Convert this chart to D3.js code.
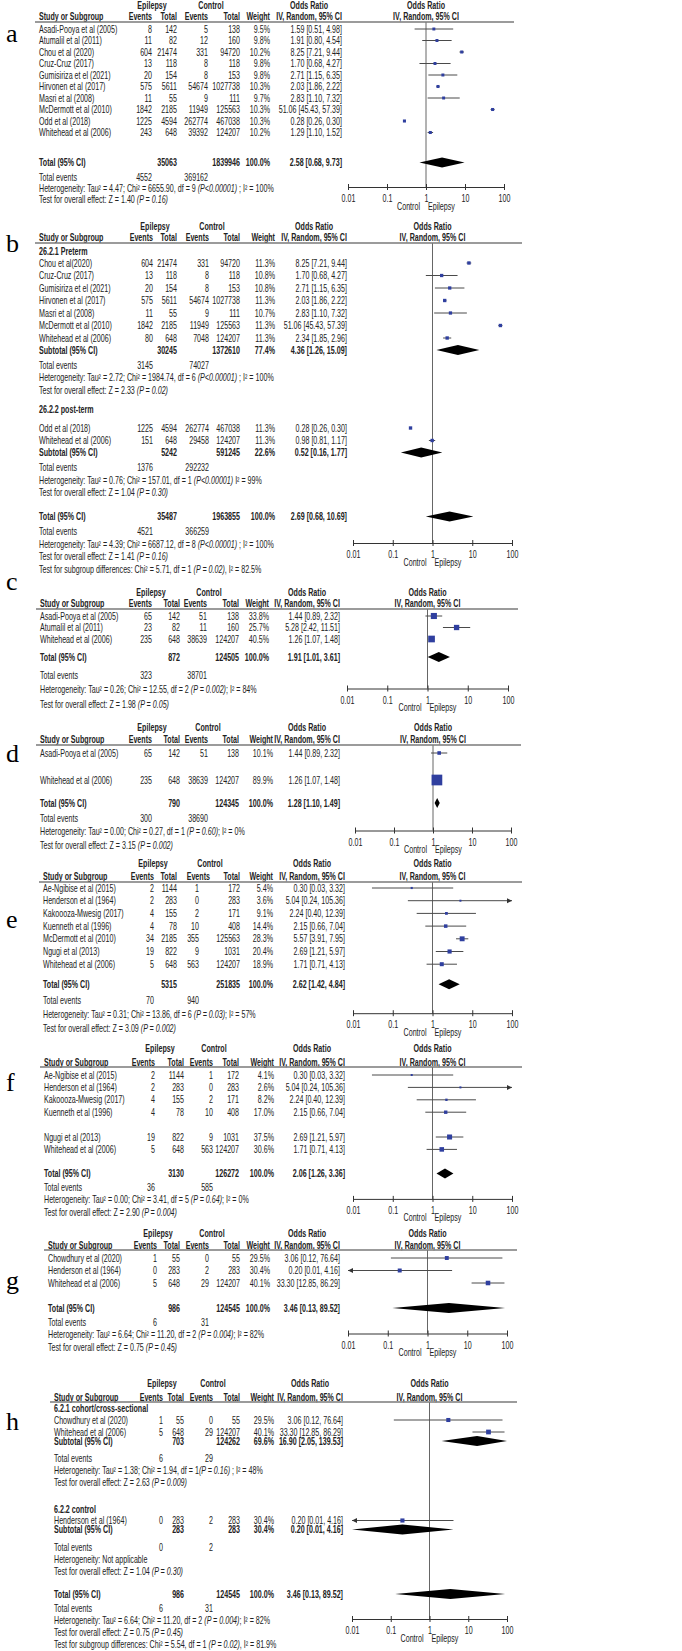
<!DOCTYPE html>
<html>
<head>
<meta charset="utf-8">
<script src="https://cdn.jsdelivr.net/npm/d3@7"></script>
<style>
    body { margin: 0; background: #fff; }
    text { font-family: 'Liberation Sans Narrow', 'Arial Narrow', 'Liberation Sans', Arial, sans-serif; font-size: 10px; fill: #222; }
    .b { font-weight: bold; }
    .letter { font-family: 'Liberation Serif', 'DejaVu Serif', serif; font-size: 26px; fill: #000; }
</style>
</head>
<body>
<svg id="chart" width="682" height="1651"></svg>
<script>
// ---------- data ----------
// row = [study, epilepsy events, epilepsy total, control events, control total, weight %, OR, lower, upper]
const tickValues = [0.01, 0.1, 1, 10, 100]
const tickLabels = ["0.01", "0.1", "1", "10", "100"]

const aRows = [
    ["Asadi-Pooya et al (2005)", 8, 142, 5, 138, 9.5, 1.59, 0.51, 4.98],
    ["Atumalil et al (2011)", 11, 82, 12, 160, 9.8, 1.91, 0.80, 4.54],
    ["Chou et al (2020)", 604, 21474, 331, 94720, 10.2, 8.25, 7.21, 9.44],
    ["Cruz-Cruz (2017)", 13, 118, 8, 118, 9.8, 1.70, 0.68, 4.27],
    ["Gumisiriza et el (2021)", 20, 154, 8, 153, 9.8, 2.71, 1.15, 6.35],
    ["Hirvonen et al (2017)", 575, 5611, 54674, 1027738, 10.3, 2.03, 1.86, 2.22],
    ["Masri et al (2008)", 11, 55, 9, 111, 9.7, 2.83, 1.10, 7.32],
    ["McDermott et al (2010)", 1842, 2185, 11949, 125563, 10.3, 51.06, 45.43, 57.39],
    ["Odd et al (2018)", 1225, 4594, 262774, 467038, 10.3, 0.28, 0.26, 0.30],
    ["Whitehead et al (2006)", 243, 648, 39392, 124207, 10.2, 1.29, 1.10, 1.52]
]
const aTotal = [35063, 1839946, 100.0, 2.58, 0.68, 9.73]
const aEvents = [4552, 369162]
const aNotes = ["Heterogeneity: Tau² = 4.47; Chi² = 6655.90, df = 9 (P<0.00001) ; I² = 100%",
                "Test for overall effect: Z = 1.40 (P = 0.16)"]

const b1Label = "26.2.1 Preterm"
const b1Rows = [
    ["Chou et al(2020)", 604, 21474, 331, 94720, 11.3, 8.25, 7.21, 9.44],
    ["Cruz-Cruz (2017)", 13, 118, 8, 118, 10.8, 1.70, 0.68, 4.27],
    ["Gumisiriza et el (2021)", 20, 154, 8, 153, 10.8, 2.71, 1.15, 6.35],
    ["Hirvonen et al (2017)", 575, 5611, 54674, 1027738, 11.3, 2.03, 1.86, 2.22],
    ["Masri et al (2008)", 11, 55, 9, 111, 10.7, 2.83, 1.10, 7.32],
    ["McDermott et al (2010)", 1842, 2185, 11949, 125563, 11.3, 51.06, 45.43, 57.39],
    ["Whitehead et al (2006)", 80, 648, 7048, 124207, 11.3, 2.34, 1.85, 2.96]
]
const b1Sub = [30245, 1372610, 77.4, 4.36, 1.26, 15.09]
const b1Events = [3145, 74027]
const b1Notes = ["Heterogeneity: Tau² = 2.72; Chi² = 1984.74, df = 6 (P<0.00001) ; I² = 100%",
                 "Test for overall effect: Z = 2.33 (P = 0.02)"]
const b2Label = "26.2.2 post-term"
const b2Rows = [
    ["Odd et al (2018)", 1225, 4594, 262774, 467038, 11.3, 0.28, 0.26, 0.30],
    ["Whitehead et al (2006)", 151, 648, 29458, 124207, 11.3, 0.98, 0.81, 1.17]
]
const b2Sub = [5242, 591245, 22.6, 0.52, 0.16, 1.77]
const b2Events = [1376, 292232]
const b2Notes = ["Heterogeneity: Tau² = 0.76; Chi² = 157.01, df = 1  (P<0.00001)  I² = 99%",
                 "Test for overall effect: Z = 1.04 (P = 0.30)"]
const bTotal = [35487, 1963855, 100.0, 2.69, 0.68, 10.69]
const bEvents = [4521, 366259]
const bNotes = ["Heterogeneity: Tau² = 4.39; Chi² = 6687.12, df = 8 (P<0.00001) ; I² = 100%",
                "Test for overall effect: Z = 1.41 (P = 0.16)",
                "Test for subgroup differences: Chi² = 5.71, df = 1 (P = 0.02), I² = 82.5%"]

const cRows = [
    ["Asadi-Pooya et al (2005)", 65, 142, 51, 138, 33.8, 1.44, 0.89, 2.32],
    ["Atumalil et al (2011)", 23, 82, 11, 160, 25.7, 5.28, 2.42, 11.51],
    ["Whitehead et al (2006)", 235, 648, 38639, 124207, 40.5, 1.26, 1.07, 1.48]
]
const cTotal = [872, 124505, 100.0, 1.91, 1.01, 3.61]
const cEvents = [323, 38701]
const cNotes = ["Heterogeneity: Tau² = 0.26; Chi² = 12.55, df = 2 (P = 0.002); I² = 84%",
                "Test for overall effect: Z = 1.98 (P = 0.05)"]

const dRows = [
    ["Asadi-Pooya et al (2005)", 65, 142, 51, 138, 10.1, 1.44, 0.89, 2.32],
    null,
    ["Whitehead et al (2006)", 235, 648, 38639, 124207, 89.9, 1.26, 1.07, 1.48]
]
const dTotal = [790, 124345, 100.0, 1.28, 1.10, 1.49]
const dEvents = [300, 38690]
const dNotes = ["Heterogeneity: Tau² = 0.00; Chi² = 0.27, df = 1 (P = 0.60); I² = 0%",
                "Test for overall effect: Z = 3.15 (P = 0.002)"]

const eRows = [
    ["Ae-Ngibise et al (2015)", 2, 1144, 1, 172, 5.4, 0.30, 0.03, 3.32],
    ["Henderson et al (1964)", 2, 283, 0, 283, 3.6, 5.04, 0.24, 105.36],
    ["Kakoooza-Mwesig (2017)", 4, 155, 2, 171, 9.1, 2.24, 0.40, 12.39],
    ["Kuenneth et al (1996)", 4, 78, 10, 408, 14.4, 2.15, 0.66, 7.04],
    ["McDermott et al (2010)", 34, 2185, 355, 125563, 28.3, 5.57, 3.91, 7.95],
    ["Ngugi et al (2013)", 19, 822, 9, 1031, 20.4, 2.69, 1.21, 5.97],
    ["Whitehead et al (2006)", 5, 648, 563, 124207, 18.9, 1.71, 0.71, 4.13]
]
const eTotal = [5315, 251835, 100.0, 2.62, 1.42, 4.84]
const eEvents = [70, 940]
const eNotes = ["Heterogeneity: Tau² = 0.31; Chi² = 13.86, df = 6 (P = 0.03); I² = 57%",
                "Test for overall effect: Z = 3.09 (P = 0.002)"]

const fRows = [
    ["Ae-Ngibise et al (2015)", 2, 1144, 1, 172, 4.1, 0.30, 0.03, 3.32],
    ["Henderson et al (1964)", 2, 283, 0, 283, 2.6, 5.04, 0.24, 105.36],
    ["Kakoooza-Mwesig (2017)", 4, 155, 2, 171, 8.2, 2.24, 0.40, 12.39],
    ["Kuenneth et al (1996)", 4, 78, 10, 408, 17.0, 2.15, 0.66, 7.04],
    null,
    ["Ngugi et al (2013)", 19, 822, 9, 1031, 37.5, 2.69, 1.21, 5.97],
    ["Whitehead et al (2006)", 5, 648, 563, 124207, 30.6, 1.71, 0.71, 4.13]
]
const fTotal = [3130, 126272, 100.0, 2.06, 1.26, 3.36]
const fEvents = [36, 585]
const fNotes = ["Heterogeneity: Tau² = 0.00; Chi² = 3.41, df = 5 (P = 0.64); I² = 0%",
                "Test for overall effect: Z = 2.90 (P = 0.004)"]

const gRows = [
    ["Chowdhury et al (2020)", 1, 55, 0, 55, 29.5, 3.06, 0.12, 76.64],
    ["Henderson et al (1964)", 0, 283, 2, 283, 30.4, 0.20, 0.01, 4.16],
    ["Whitehead et al (2006)", 5, 648, 29, 124207, 40.1, 33.30, 12.85, 86.29]
]
const gTotal = [986, 124545, 100.0, 3.46, 0.13, 89.52]
const gEvents = [6, 31]
const gNotes = ["Heterogeneity: Tau² = 6.64; Chi² = 11.20, df = 2 (P = 0.004); I² = 82%",
                "Test for overall effect: Z = 0.75 (P = 0.45)"]

const h1Label = "6.2.1 cohort/cross-sectional"
const h1Rows = [
    ["Chowdhury et al (2020)", 1, 55, 0, 55, 29.5, 3.06, 0.12, 76.64],
    ["Whitehead et al (2006)", 5, 648, 29, 124207, 40.1, 33.30, 12.85, 86.29]
]
const h1Sub = [703, 124262, 69.6, 16.90, 2.05, 139.53]
const h1Events = [6, 29]
const h1Notes = ["Heterogeneity: Tau² = 1.38; Chi² = 1.94, df = 1(P = 0.16) ; I² = 48%",
                 "Test for overall effect: Z = 2.63 (P = 0.009)"]
const h2Label = "6.2.2 control"
const h2Rows = [
    ["Henderson et al (1964)", 0, 283, 2, 283, 30.4, 0.20, 0.01, 4.16]
]
const h2Sub = [283, 283, 30.4, 0.20, 0.01, 4.16]
const h2Events = [0, 2]
const h2Notes = ["Heterogeneity: Not applicable",
                 "Test for overall effect: Z = 1.04 (P = 0.30)"]
const hTotal = [986, 124545, 100.0, 3.46, 0.13, 89.52]
const hEvents = [6, 31]
const hNotes = ["Heterogeneity: Tau² = 6.64; Chi² = 11.20, df = 2 (P = 0.004); I² = 82%",
                "Test for overall effect: Z = 0.75 (P = 0.45)",
                "Test for subgroup differences: Chi² = 5.54, df = 1 (P = 0.02), I² = 81.9%"]

// ---------- layout (pixels) ----------
function cols(xs, evE, totE, evC, totC, w, or, p0, p1, epiX, ctlX) {
    return {xs, evE, totE, evC, totC, w, or, p0, p1, epiX, ctlX, evCH: evC}
}
const base = {h2Dy: 11, sepDy: 6, firstDy: 7, step: 12, subDy: 12, subEvDy: 15, labelGap: 19,
              totalDy: 24, evDy: 15, lineDy: 12.5, labelRowDy: [12, 12], k: 1}
const layoutA = {...base, y0: 5, step: 11.5, totalDy: 30, evDy: 14.5, lineDy: 11, letterDy: 30, k: 0.95,
                 cols: cols(39, 152, 177, 208, 240, 270, 342, 348, 504, 152, 211)}
const layoutB = {...base, y0: 226, firstDy: 8, step: 12.5, labelRowDy: [12, 19], letterDy: 19, k: 1.0,
                 cols: cols(39, 153, 177, 209, 240, 275, 347, 353, 512, 155, 212)}
const layoutC = {...base, y0: 592, step: 11.5, totalDy: 18, evDy: 18, lineDy: 14.5, letterDy: -9, k: 1.05,
                 cols: cols(40, 152, 180, 207, 239, 269, 340, 347, 508, 151, 209)}
const layoutD = {...base, y0: 727, h2Dy: 12, firstDy: 8, step: 13.5, totalDy: 23, evDy: 15, lineDy: 13.5, letterDy: 28, k: 1.13,
                 cols: cols(40, 152, 180, 208, 239, 273, 340, 355, 511, 152, 208)}
const layoutE = {...base, y0: 863, h2Dy: 13, firstDy: 6, step: 12.7, totalDy: 20, evDy: 16, lineDy: 14, letterDy: 58, k: 0.92,
                 cols: {...cols(43, 154, 177, 199, 240, 273, 345, 353, 512, 153, 210), evCH: 210}}
const layoutF = {...base, y0: 1048, h2Dy: 14, sepDy: 5, firstDy: 8, step: 12.4, totalDy: 24, evDy: 14, lineDy: 12.5, letterDy: 36, k: 0.82,
                 cols: cols(44, 155, 184, 213, 239, 274, 345, 353, 512, 160, 214)}
const layoutG = {...base, y0: 1233, h2Dy: 12, sepDy: 5, firstDy: 8, step: 12.5, totalDy: 25, evDy: 14, lineDy: 12.5, letterDy: 49, k: 0.72,
                 cols: cols(48, 157, 180, 209, 240, 270, 340, 348, 507, 158, 212)}
const layoutH = {...base, y0: 1383, h2Dy: 14, sepDy: 5, firstDy: 6, step: 12, labelRowDy: [12, 11], subDy: 9, subEvDy: 17.5,
                 labelGap: 27, totalDy: 23, evDy: 14, lineDy: 12, letterDy: 40, k: 0.75,
                 cols: cols(54, 163, 184, 213, 240, 274, 343, 352, 507, 162, 213)}

const panels = [
    {letter: "a", groups: [{rows: aRows}], total: aTotal, events: aEvents, notes: aNotes, layout: layoutA},
    {letter: "b", groups: [
        {label: b1Label, rows: b1Rows, sub: b1Sub, events: b1Events, notes: b1Notes},
        {label: b2Label, rows: b2Rows, sub: b2Sub, events: b2Events, notes: b2Notes}],
     total: bTotal, events: bEvents, notes: bNotes, layout: layoutB},
    {letter: "c", groups: [{rows: cRows}], total: cTotal, events: cEvents, notes: cNotes, layout: layoutC},
    {letter: "d", groups: [{rows: dRows}], total: dTotal, events: dEvents, notes: dNotes, layout: layoutD},
    {letter: "e", groups: [{rows: eRows}], total: eTotal, events: eEvents, notes: eNotes, layout: layoutE},
    {letter: "f", groups: [{rows: fRows}], total: fTotal, events: fEvents, notes: fNotes, layout: layoutF},
    {letter: "g", groups: [{rows: gRows}], total: gTotal, events: gEvents, notes: gNotes, layout: layoutG},
    {letter: "h", groups: [
        {label: h1Label, rows: h1Rows, sub: h1Sub, events: h1Events, notes: h1Notes},
        {label: h2Label, rows: h2Rows, sub: h2Sub, events: h2Events, notes: h2Notes}],
     total: hTotal, events: hEvents, notes: hNotes, layout: layoutH}
]

// ---------- drawing ----------
let svg = d3.select("#chart")
let f2 = d3.format(".2f"), f1 = d3.format(".1f")

// squeeze the text horizontally so it matches the narrow RevMan font
let probe = svg.append("text").text(aNotes[0])
const sx = 235 / probe.node().getComputedTextLength()
probe.remove()

function txt(g, x, y, s, anchor, cls) {
    let t = g.append("text")
        .attr("transform", "translate(" + x + "," + (y + 3.5) + ") scale(" + sx + ",1)")
        .attr("text-anchor", anchor || "start")
    if (cls) t.attr("class", cls)
    String(s).split(/(\(P\s*[<=][^)]*\))/).forEach(part => {
        if (!part) return
        let ts = t.append("tspan").text(part)
        if (/^\(P/.test(part)) ts.attr("font-style", "italic")
    })
    return t
}

function ciText(or, lo, hi) {
    return f2(or) + " [" + f2(lo) + ", " + f2(hi) + "]"
}

// turn the panel into a list of text lines with y positions
function buildLines(p, L) {
    let out = [], y = L.y0, first = true
    let push = (kind, dy, d) => { y += dy; out.push({kind: kind, y: y, d: d}) }
    push("h1", 0)
    push("h2", L.h2Dy)
    push("sep", L.sepDy)
    p.groups.forEach((gr, gi) => {
        if (gr.label) { push("label", first ? L.firstDy : L.labelGap, gr.label); first = false }
        gr.rows.forEach((r, ri) => {
            let dy = L.step
            if (first) dy = L.firstDy
            else if (gr.label && ri === 0) dy = L.labelRowDy[gi]
            first = false
            push(r ? "row" : "blank", dy, r)
        })
        if (gr.sub) {
            push("sub", L.subDy, gr.sub)
            push("ev", L.subEvDy, gr.events)
            gr.notes.forEach(n => push("note", L.lineDy, n))
        }
    })
    push("total", L.totalDy, p.total)
    push("ev", L.evDy, p.events)
    p.notes.forEach((n, i) => push(i === 0 ? "het" : "note", L.lineDy, n))
    return out
}

function drawPanel(p) {
    let L = p.layout, c = L.cols
    let g = svg.append("g")
    let x = d3.scaleLog().domain([0.01, 100]).range([c.p0, c.p1]).clamp(true)
    let size = d3.scaleSqrt().domain([0, 100]).range([0, 10 * L.k])
    let xMid = (c.p0 + c.p1) / 2
    let lines = buildLines(p, L)
    let sepY = lines.find(l => l.kind === "sep").y
    let axisY = lines.find(l => l.kind === "het").y - 1

    g.append("text").attr("class", "letter").attr("x", 6).attr("y", L.y0 + L.letterDy + 7).text(p.letter)

    // line of no effect
    g.append("line").attr("x1", x(1)).attr("x2", x(1)).attr("y1", sepY).attr("y2", axisY)
        .attr("stroke", "#666").attr("stroke-width", 1)

    let diamond = (y, d) => {
        let pts = [[x(d[4]), y], [x(d[3]), y - 5], [x(d[5]), y], [x(d[3]), y + 5]]
        g.append("path").attr("d", d3.line()(pts) + "Z").attr("fill", "#000")
    }
    let arrow = (tip, y, dir) => {
        g.append("path").attr("d", d3.line()([[tip, y], [tip - dir * 5, y - 2.5], [tip - dir * 5, y + 2.5]]) + "Z")
            .attr("fill", "#333")
    }

    lines.forEach(l => {
        let y = l.y, d = l.d
        if (l.kind === "h1") {
            txt(g, c.epiX, y, "Epilepsy", "middle", "b")
            txt(g, c.ctlX, y, "Control", "middle", "b")
            txt(g, c.or - 33, y, "Odds Ratio", "middle", "b")
            txt(g, xMid, y, "Odds Ratio", "middle", "b")
        } else if (l.kind === "h2") {
            txt(g, c.xs, y, "Study or Subgroup", "start", "b")
            txt(g, c.evE, y, "Events", "end", "b")
            txt(g, c.totE, y, "Total", "end", "b")
            txt(g, c.evCH, y, "Events", "end", "b")
            txt(g, c.totC, y, "Total", "end", "b")
            txt(g, c.w, y, "Weight", "end", "b")
            txt(g, c.or, y, "IV, Random, 95% CI", "end", "b")
            txt(g, xMid, y, "IV, Random, 95% CI", "middle", "b")
        } else if (l.kind === "sep") {
            g.append("line").attr("x1", c.xs - 4).attr("x2", c.p1 + 10).attr("y1", y).attr("y2", y)
                .attr("stroke", "#7a7a7a").attr("stroke-width", 1.5)
        } else if (l.kind === "label") {
            txt(g, c.xs, y, d, "start", "b")
        } else if (l.kind === "row") {
            txt(g, c.xs, y, d[0])
            txt(g, c.evE, y, d[1], "end")
            txt(g, c.totE, y, d[2], "end")
            txt(g, c.evC, y, d[3], "end")
            txt(g, c.totC, y, d[4], "end")
            txt(g, c.w, y, f1(d[5]) + "%", "end")
            txt(g, c.or, y, ciText(d[6], d[7], d[8]), "end")
            g.append("line").attr("x1", x(d[7])).attr("x2", x(d[8])).attr("y1", y).attr("y2", y)
                .attr("stroke", "#4a4a4a").attr("stroke-width", 1)
            if (d[7] <= 0.01) arrow(x(0.01), y, -1)
            if (d[8] > 100) arrow(x(100), y, 1)
            let s = Math.max(2, size(d[5]))
            g.append("rect").attr("x", x(d[6]) - s / 2).attr("y", y - s / 2).attr("width", s).attr("height", s)
                .attr("fill", "#2f3f9f")
        } else if (l.kind === "sub" || l.kind === "total") {
            txt(g, c.xs, y, l.kind === "sub" ? "Subtotal (95% CI)" : "Total (95% CI)", "start", "b")
            txt(g, c.totE, y, d[0], "end", "b")
            txt(g, c.totC, y, d[1], "end", "b")
            txt(g, c.w, y, f1(d[2]) + "%", "end", "b")
            txt(g, c.or, y, ciText(d[3], d[4], d[5]), "end", "b")
            diamond(y, d)
        } else if (l.kind === "ev") {
            txt(g, c.xs, y, "Total events")
            txt(g, c.evE, y, d[0], "end")
            txt(g, c.evC, y, d[1], "end")
        } else if (l.kind === "het" || l.kind === "note") {
            txt(g, c.xs, y, d)
        }
    })

    // log axis
    let ax = g.append("g").attr("transform", "translate(0," + axisY + ")")
        .call(d3.axisBottom(x).tickValues(tickValues).tickFormat((v, i) => tickLabels[i])
            .tickSizeInner(3).tickSizeOuter(0).tickPadding(5))
    ax.select(".domain").attr("stroke", "#333")
    ax.selectAll(".tick line").attr("y1", -3).attr("y2", 3).attr("stroke", "#333")
    ax.selectAll(".tick text").attr("transform", "scale(" + sx + ",1)")

    txt(g, x(1) - 6, axisY + 19, "Control", "end")
    txt(g, x(1) + 2, axisY + 19, "Epilepsy", "start")
}

panels.forEach(drawPanel)
</script>
</body>
</html>
